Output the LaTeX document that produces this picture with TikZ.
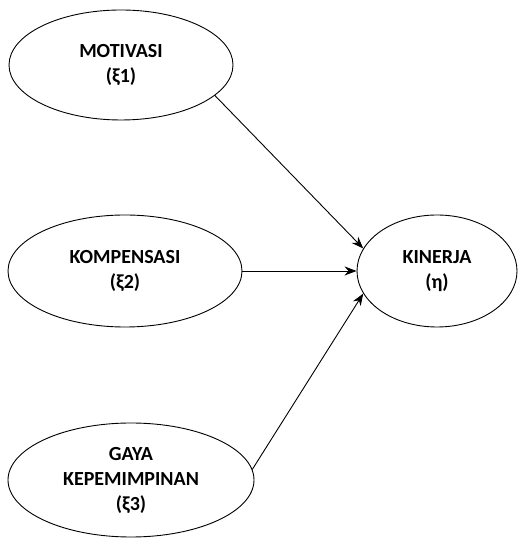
\documentclass[tikz,border=0pt]{standalone}
\usepackage{fontspec}
\setmainfont{Carlito}
\usetikzlibrary{arrows.meta,shapes.geometric}
\begin{document}
\begin{tikzpicture}[x=1pt, y=1pt, line cap=round, line join=round, font=\fontsize{20}{25}\selectfont\bfseries, >={Stealth[length=12pt,width=9pt]}]
	\tikzset{var style/.style={draw, ellipse, inner sep=0pt, align=center, line width=0.9pt}}
	\useasboundingbox (0,0) rectangle (520,540);
	\node[var style, minimum width=224, minimum height=110] (motivasi) at (121,475) {MOTIVASI\\(ξ1)};
	\node[var style, minimum width=234, minimum height=112] (kompensasi) at (125,269) {KOMPENSASI\\(ξ2)};
	\node[var style, minimum width=246, minimum height=114] (gaya) at (131,60) {GAYA\\KEPEMIMPINAN\\(ξ3)};
	\node[var style, minimum width=160, minimum height=112] (kinerja) at (437,269) {KINERJA\\(η)};
	\draw[->, line width=0.9pt] (motivasi.-18) -- (kinerja.163);
	\draw[->, line width=0.9pt] (kompensasi) -- (kinerja);
	\draw[->, line width=0.9pt] (gaya.5) -- (kinerja.197);
\end{tikzpicture}
\end{document}
